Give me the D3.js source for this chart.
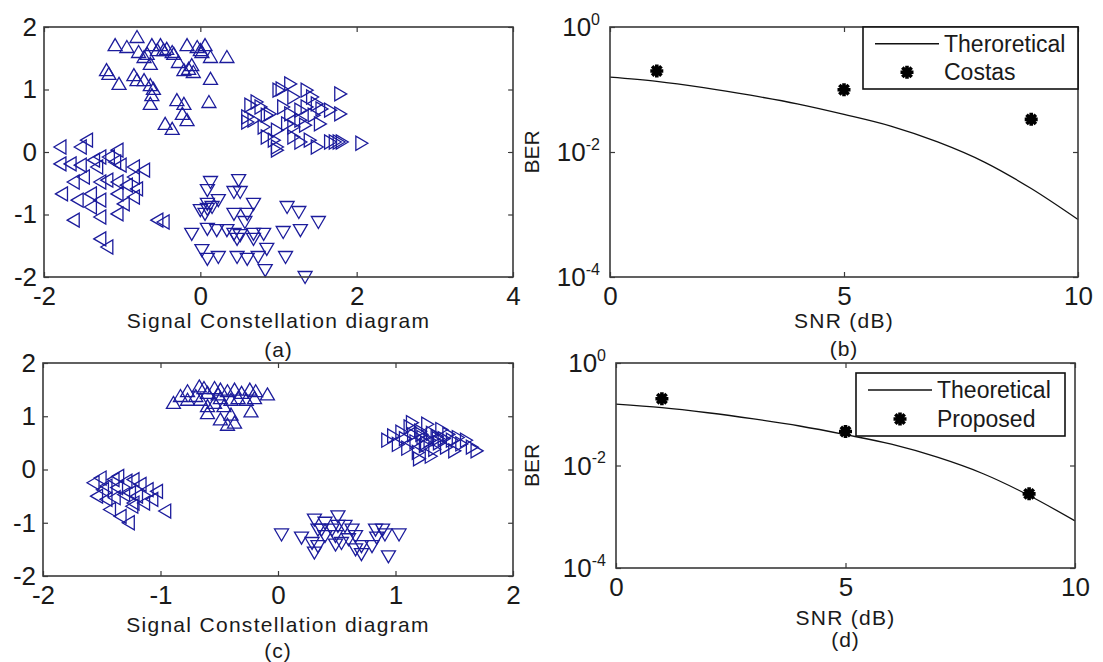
<!DOCTYPE html>
<html>
<head>
<meta charset="utf-8">
<script src="https://cdn.jsdelivr.net/npm/d3@7"></script>
<style>
  body { margin: 0; background: #fff; }
  text { font-family: "Liberation Sans", Arial, sans-serif; fill: #1a1a1a; }
</style>
</head>
<body>
<svg id="fig" width="1103" height="662"></svg>
<script>
// ---- panel (a): constellation before correction ----
const aUp = [[-0.81,1.84],[-1.09,1.71],[-0.94,1.68],[-0.79,1.60],[-0.72,1.52],[-0.62,1.71],[-0.51,1.71],[-0.47,1.63],[-0.43,1.65],[-0.34,1.57],[-0.17,1.71],[-0.04,1.68],[0.06,1.71],[0.02,1.60],[0.13,1.52],[0.34,1.52],[-0.36,1.60],[-0.28,1.44],[-0.21,1.31],[-0.15,1.33],[-0.09,1.28],[-0.11,1.39],[-0.64,1.41],[-1.20,1.31],[-1.17,1.25],[-1.04,1.09],[-0.85,1.23],[-0.81,1.15],[-0.72,1.15],[-0.64,1.07],[-0.60,1.01],[-0.62,0.91],[-0.64,0.77],[-0.30,0.83],[-0.21,0.77],[-0.23,0.61],[-0.17,0.51],[-0.45,0.45],[-0.36,0.37],[0.13,1.17],[0.11,0.80],[-0.68,1.57],[-0.55,1.63],[0.00,1.63]];
const aRight = [[1.04,1.01],[1.15,1.09],[1.00,0.99],[1.36,0.99],[1.43,0.88],[1.79,0.93],[1.49,0.77],[1.55,0.69],[1.66,0.67],[1.79,0.61],[0.64,0.75],[0.72,0.80],[0.60,0.56],[0.85,0.59],[0.89,0.61],[1.06,0.72],[1.15,0.61],[1.28,0.67],[1.36,0.72],[1.45,0.59],[0.60,0.48],[0.81,0.40],[0.98,0.35],[1.11,0.45],[1.19,0.40],[1.28,0.51],[1.34,0.43],[1.53,0.45],[0.85,0.24],[0.94,0.19],[0.98,0.08],[1.19,0.24],[1.28,0.16],[1.40,0.19],[1.49,0.08],[1.66,0.16],[1.72,0.16],[1.77,0.16],[1.81,0.16],[2.06,0.14],[0.98,0.03],[0.68,0.51],[0.77,0.72],[1.19,0.88]];
const aLeft = [[-1.79,0.08],[-1.53,0.08],[-1.45,0.19],[-1.79,-0.19],[-1.66,-0.19],[-1.53,-0.21],[-1.36,-0.13],[-1.28,-0.08],[-1.32,-0.24],[-1.17,-0.08],[-1.06,0.03],[-1.09,-0.16],[-1.02,-0.21],[-0.85,-0.24],[-0.72,-0.29],[-1.62,-0.48],[-1.49,-0.40],[-1.28,-0.48],[-1.19,-0.45],[-1.06,-0.48],[-0.94,-0.53],[-0.85,-0.40],[-0.81,-0.59],[-1.57,-0.77],[-1.77,-0.67],[-1.40,-0.88],[-1.28,-0.77],[-1.28,-1.04],[-1.06,-0.99],[-0.98,-0.83],[-0.85,-0.72],[-1.62,-1.09],[-1.28,-1.39],[-1.19,-1.52],[-1.06,-0.67],[-1.40,-0.67],[-0.55,-1.09],[-0.47,-1.12]];
const aDown = [[0.13,-0.48],[0.49,-0.45],[0.09,-0.61],[0.23,-0.77],[0.43,-0.64],[0.51,-0.64],[0.68,-0.83],[0.09,-0.91],[0.06,-0.99],[0.15,-0.88],[0.43,-0.99],[0.60,-0.99],[0.57,-1.12],[1.11,-0.88],[1.26,-0.96],[1.51,-1.12],[-0.11,-1.31],[0.09,-1.23],[0.21,-1.25],[0.34,-1.25],[0.43,-1.31],[0.51,-1.33],[0.68,-1.31],[0.81,-1.31],[1.06,-1.28],[1.28,-1.25],[0.02,-1.57],[0.09,-1.71],[0.23,-1.68],[0.47,-1.68],[0.60,-1.71],[0.74,-1.68],[0.85,-1.55],[1.09,-1.68],[0.83,-1.89],[1.34,-2.00],[0.47,-1.39],[0.68,-1.39],[0.09,-0.83],[0.00,-0.93]];

// ---- panel (c): constellation after correction ----
const cUp = [[-0.83,1.38],[-0.89,1.25],[-0.77,1.47],[-0.67,1.56],[-0.60,1.44],[-0.54,1.53],[-0.49,1.50],[-0.43,1.47],[-0.37,1.50],[-0.31,1.44],[-0.24,1.50],[-0.19,1.47],[-0.09,1.41],[-0.66,1.31],[-0.60,1.19],[-0.54,1.25],[-0.49,1.34],[-0.40,1.31],[-0.34,1.34],[-0.27,1.31],[-0.20,1.34],[-0.60,1.06],[-0.49,0.94],[-0.43,0.84],[-0.37,0.88],[-0.40,1.03],[-0.23,1.09],[-0.77,1.31],[-0.51,1.41],[-0.46,1.19],[-0.63,1.53],[-0.70,1.38]];
const cRight = [[0.93,0.55],[0.98,0.63],[1.02,0.47],[1.05,0.70],[1.08,0.58],[1.10,0.40],[1.12,0.80],[1.15,0.65],[1.17,0.52],[1.19,0.32],[1.21,0.72],[1.23,0.60],[1.25,0.45],[1.27,0.85],[1.29,0.55],[1.31,0.68],[1.33,0.38],[1.35,0.62],[1.37,0.50],[1.39,0.75],[1.41,0.58],[1.43,0.42],[1.45,0.66],[1.48,0.55],[1.50,0.35],[1.53,0.60],[1.56,0.48],[1.60,0.55],[1.65,0.42],[1.69,0.35],[1.20,0.20],[1.30,0.25],[1.14,0.88],[1.26,0.50],[1.36,0.58],[1.22,0.66]];
const cLeft = [[-1.57,-0.25],[-1.51,-0.16],[-1.46,-0.31],[-1.40,-0.19],[-1.36,-0.13],[-1.29,-0.22],[-1.23,-0.19],[-1.17,-0.28],[-1.11,-0.38],[-1.03,-0.41],[-1.54,-0.50],[-1.46,-0.56],[-1.39,-0.53],[-1.31,-0.47],[-1.26,-0.44],[-1.20,-0.50],[-1.14,-0.63],[-1.07,-0.56],[-0.96,-0.78],[-1.43,-0.75],[-1.34,-0.88],[-1.27,-1.00],[-1.24,-0.69],[-1.49,-0.38],[-1.37,-0.34],[-1.23,-0.63]];
const cDown = [[0.03,-1.22],[0.20,-1.28],[0.29,-1.38],[0.31,-1.56],[0.34,-1.13],[0.31,-0.94],[0.40,-1.00],[0.51,-0.88],[0.57,-1.06],[0.63,-1.13],[0.49,-1.25],[0.54,-1.38],[0.60,-1.31],[0.66,-1.25],[0.71,-1.44],[0.80,-1.44],[0.71,-1.59],[0.83,-1.13],[0.89,-1.13],[0.84,-1.28],[0.91,-1.22],[1.03,-1.22],[0.94,-1.63],[0.40,-1.25],[0.46,-1.13],[0.49,-1.41],[0.34,-1.44],[0.66,-1.50],[0.51,-1.06],[0.37,-1.13]];

// ---- panels (b) and (d): BER vs SNR ----
const snrTheory = [0, 1, 2, 3, 4, 5, 6, 7, 8, 9, 10];
const berTheory = [0.158, 0.135, 0.107, 0.081, 0.059, 0.040, 0.026, 0.0145, 0.0069, 0.0026, 0.00083];
const snrMeasured = [1, 5, 9];
const berCostas = [0.198, 0.099, 0.0333];
const berProposed = [0.201, 0.046, 0.0028];

const scatterYTicks = [-2, -1, 0, 1, 2];
const aXTicks = [-2, 0, 2, 4];
const cXTicks = [-2, -1, 0, 1, 2];
const snrTicks = [0, 5, 10];
const berTicks = [1e-4, 1e-2, 1];

const svg = d3.select('#fig');
const ink = '#1a1a1a';
const frame = '#3a3a3a';
const markerBlue = '#1c1c9c';

/**
 * Helpers
 */
function triangle(dir) {
  // up-pointing outline, rotated for the other directions
  var rot = { up: 0, right: 90, down: 180, left: -90 }[dir];
  return { d: 'M0,-6.5L7,5.5L-7,5.5Z', rot: rot };
}

function starPath(r) {
  var q = r * 0.72;
  return 'M' + (-r) + ',0L' + r + ',0M0,' + (-r) + 'L0,' + r +
    'M' + (-q) + ',' + (-q) + 'L' + q + ',' + q + 'M' + (-q) + ',' + q + 'L' + q + ',' + (-q);
}

function drawFrame(g, x, y, box, xTicks, yTicks, yFormat) {
  var fmt = function (d) { return String(d); };

  var bottom = g.append('g')
    .attr('transform', 'translate(0,' + box.y1 + ')')
    .call(d3.axisBottom(x).tickValues(xTicks).tickSizeInner(-5).tickSizeOuter(0).tickPadding(10).tickFormat(fmt));
  var top = g.append('g')
    .attr('transform', 'translate(0,' + box.y0 + ')')
    .call(d3.axisTop(x).tickValues(xTicks).tickSizeInner(-5).tickSizeOuter(0).tickFormat(function () { return ''; }));
  var left = g.append('g')
    .attr('transform', 'translate(' + box.x0 + ',0)')
    .call(d3.axisLeft(y).tickValues(yTicks).tickSizeInner(-5).tickSizeOuter(0).tickPadding(7)
      .tickFormat(yFormat ? function () { return ''; } : fmt));
  var right = g.append('g')
    .attr('transform', 'translate(' + box.x1 + ',0)')
    .call(d3.axisRight(y).tickValues(yTicks).tickSizeInner(-5).tickSizeOuter(0).tickFormat(function () { return ''; }));

  [bottom, top, left, right].forEach(function (ax) {
    ax.attr('font-size', null).attr('font-family', null);
    ax.select('.domain').remove();
    ax.selectAll('.tick line').attr('stroke', frame).attr('stroke-width', 1.2);
    ax.selectAll('.tick text').style('font-size', '26px').attr('fill', ink);
  });

  if (yFormat) {
    // log axis: 10 with raised exponent
    yTicks.forEach(function (v) {
      var t = g.append('text')
        .attr('x', box.x0 - 10)
        .attr('y', y(v))
        .attr('dy', '0.35em')
        .attr('text-anchor', 'end')
        .style('font-size', '26px');
      t.append('tspan').text('10');
      t.append('tspan').attr('dy', '-0.7em').style('font-size', '16px').text(yFormat(v));
    });
  }

  g.append('rect')
    .attr('x', box.x0).attr('y', box.y0)
    .attr('width', box.x1 - box.x0).attr('height', box.y1 - box.y0)
    .attr('fill', 'none').attr('stroke', frame).attr('stroke-width', 1.6);
}

function captions(g, cx, label, labelY, caption, captionY) {
  g.append('text').attr('x', cx).attr('y', labelY).attr('text-anchor', 'middle')
    .style('font-size', '21px').style('letter-spacing', '1.3px').text(label);
  g.append('text').attr('x', cx).attr('y', captionY).attr('text-anchor', 'middle')
    .style('font-size', '21px').style('letter-spacing', '1px').text(caption);
}

/**
 * Constellation panels
 */
function scatterPanel(box, xDomain, xTicks, clusters, caption) {
  var x = d3.scaleLinear().domain(xDomain).range([box.x0, box.x1]);
  var y = d3.scaleLinear().domain([-2, 2]).range([box.y1, box.y0]);
  var g = svg.append('g');

  clusters.forEach(function (c) {
    var shape = triangle(c.dir);
    g.append('g')
      .selectAll('path')
      .data(c.points)
      .enter()
      .append('path')
      .attr('d', shape.d)
      .attr('transform', function (d) {
        return 'translate(' + x(d[0]) + ',' + y(d[1]) + ') rotate(' + shape.rot + ')';
      })
      .attr('fill', 'none')
      .attr('stroke', markerBlue)
      .attr('stroke-width', 1.3);
  });

  drawFrame(g, x, y, box, xTicks, scatterYTicks, null);
  captions(g, (box.x0 + box.x1) / 2, 'Signal Constellation diagram', box.labelY, caption, box.captionY);
}

/**
 * BER panels
 */
function berPanel(box, measured, legendNames, legendBox, caption) {
  var x = d3.scaleLinear().domain([0, 10]).range([box.x0, box.x1]);
  var y = d3.scaleLog().domain([1e-4, 1]).range([box.y1, box.y0]);
  var g = svg.append('g');

  var line = d3.line()
    .curve(d3.curveMonotoneX)
    .x(function (d) { return x(d[0]); })
    .y(function (d) { return y(d[1]); });

  g.append('path')
    .datum(d3.zip(snrTheory, berTheory))
    .attr('d', line)
    .attr('fill', 'none')
    .attr('stroke', '#111')
    .attr('stroke-width', 1.3);

  g.selectAll('path.meas')
    .data(d3.zip(snrMeasured, measured))
    .enter()
    .append('path')
    .attr('class', 'meas')
    .attr('d', starPath(6.5))
    .attr('transform', function (d) { return 'translate(' + x(d[0]) + ',' + y(d[1]) + ')'; })
    .attr('fill', 'none')
    .attr('stroke', '#000')
    .attr('stroke-width', 3.6);

  drawFrame(g, x, y, box, snrTicks, berTicks, function (v) { return String(Math.round(Math.log10(v))); });

  g.append('text')
    .attr('transform', 'translate(' + 532 + ',' + ((box.y0 + box.y1) / 2) + ') rotate(-90)')
    .attr('text-anchor', 'middle')
    .attr('dy', '0.35em')
    .style('font-size', '21px')
    .text('BER');

  captions(g, (box.x0 + box.x1) / 2, 'SNR (dB)', box.labelY, caption, box.captionY);

  // legend
  var lg = g.append('g');
  lg.append('rect')
    .attr('x', legendBox.x0).attr('y', legendBox.y0)
    .attr('width', legendBox.x1 - legendBox.x0).attr('height', legendBox.y1 - legendBox.y0)
    .attr('fill', '#fff').attr('stroke', '#111').attr('stroke-width', 1.6);
  var row1 = legendBox.y0 + (legendBox.y1 - legendBox.y0) * 0.27;
  var row2 = legendBox.y0 + (legendBox.y1 - legendBox.y0) * 0.73;
  lg.append('line')
    .attr('x1', legendBox.x0 + 12).attr('x2', legendBox.x0 + 76)
    .attr('y1', row1).attr('y2', row1)
    .attr('stroke', '#111').attr('stroke-width', 1.3);
  lg.append('path')
    .attr('d', starPath(6.5))
    .attr('transform', 'translate(' + (legendBox.x0 + 44) + ',' + row2 + ')')
    .attr('fill', 'none').attr('stroke', '#000').attr('stroke-width', 3.6);
  legendNames.forEach(function (name, i) {
    lg.append('text')
      .attr('x', legendBox.x0 + 81)
      .attr('y', i === 0 ? row1 : row2)
      .attr('dy', '0.35em')
      .style('font-size', '23px')
      .text(name);
  });
}

scatterPanel({ x0: 44, x1: 513, y0: 27, y1: 277, labelY: 328, captionY: 357 },
  [-2, 4], aXTicks,
  [{ dir: 'up', points: aUp }, { dir: 'right', points: aRight }, { dir: 'left', points: aLeft }, { dir: 'down', points: aDown }],
  '(a)');

scatterPanel({ x0: 43, x1: 513, y0: 363, y1: 576, labelY: 632, captionY: 658 },
  [-2, 2], cXTicks,
  [{ dir: 'up', points: cUp }, { dir: 'right', points: cRight }, { dir: 'left', points: cLeft }, { dir: 'down', points: cDown }],
  '(c)');

berPanel({ x0: 610, x1: 1078, y0: 27, y1: 277, labelY: 328, captionY: 356 },
  berCostas, ['Theroretical', 'Costas'], { x0: 863, x1: 1078, y0: 27, y1: 89 }, '(b)');

berPanel({ x0: 616, x1: 1075, y0: 363, y1: 568, labelY: 625, captionY: 647 },
  berProposed, ['Theoretical', 'Proposed'], { x0: 856, x1: 1065, y0: 373, y1: 436 }, '(d)');
</script>
</body>
</html>
